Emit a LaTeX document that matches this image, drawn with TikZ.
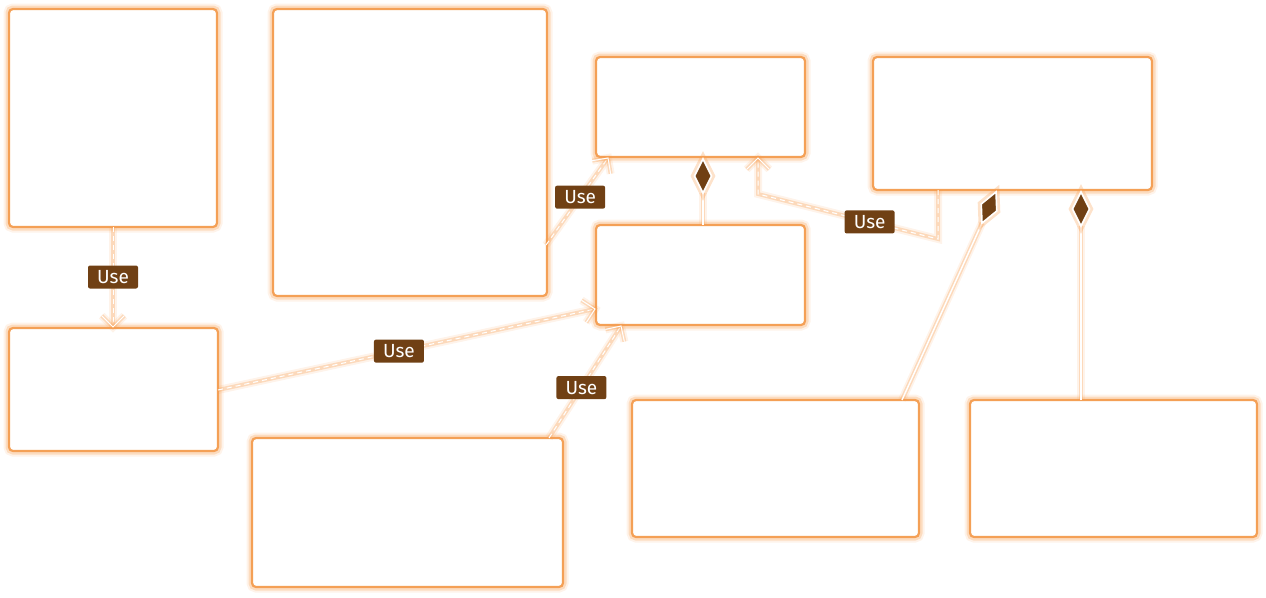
\documentclass[tikz,border=0pt]{standalone}
\usepackage{fontspec}
\setmainfont{Fira Sans}
\usetikzlibrary{calc}
\definecolor{glow}{RGB}{248,158,80}
\definecolor{edge}{RGB}{244,160,86}
\definecolor{lab}{RGB}{112,64,20}
% #1 = tip coordinate, #2 = coordinate the line comes from
\newcommand\myusetip[2]{%
  \draw[tipline] ($(#1)!16pt!45:(#2)$) -- (#1) -- ($(#1)!16pt!-45:(#2)$);}
\newcommand\mydiamond[2]{%
  \coordinate (#1m) at ($(#1)!17pt!(#2)$);
  \coordinate (#1f) at ($(#1)!34pt!(#2)$);
  \draw[solidline] (#2) -- (#1f);
  \draw[diam] (#1) -- ($(#1m)!8.5pt!90:(#2)$) -- (#1f) -- ($(#1m)!8.5pt!-90:(#2)$) -- cycle;}
\begin{document}
\begin{tikzpicture}[x=1pt,y=-1pt,
  box/.style={draw=edge, line width=2.2pt, fill=white, rounded corners=4pt, anchor=north west,
    inner sep=0pt, outer sep=0pt,
    preaction={draw=glow, line width=11pt, draw opacity=0.12},
    preaction={draw=glow, line width=7pt, draw opacity=0.28}},
  uselink/.style={draw=white, line width=1pt, dash pattern=on 5pt off 4pt,
    preaction={draw=glow, line width=8pt, draw opacity=0.12, solid},
    preaction={draw=glow, line width=4pt, draw opacity=0.3, solid}},
  tipline/.style={draw=white, line width=1pt, line join=miter,
    preaction={draw=glow, line width=8pt, draw opacity=0.12},
    preaction={draw=glow, line width=4pt, draw opacity=0.3}},
  solidline/.style={draw=white, line width=1.4pt,
    preaction={draw=glow, line width=8pt, draw opacity=0.12},
    preaction={draw=glow, line width=4.5pt, draw opacity=0.3}},
  diam/.style={draw=white, line width=1.6pt, fill=lab, line join=miter,
    preaction={draw=glow, line width=7pt, draw opacity=0.3}},
  uselabel/.style={fill=lab, text=white, rounded corners=2pt, inner sep=0pt,
    minimum width=50pt, minimum height=23pt, font=\fontsize{19}{19}\selectfont}
]
\useasboundingbox (0,0) rectangle (1266,597);
% boxes
\node[box, minimum width=208pt, minimum height=218pt] (A) at (9,9) {};
\node[box, minimum width=274pt, minimum height=287pt] (B) at (273,9) {};
\node[box, minimum width=209pt, minimum height=100pt] (C) at (596,57) {};
\node[box, minimum width=209pt, minimum height=100pt] (D) at (596,225) {};
\node[box, minimum width=279pt, minimum height=133pt] (E) at (873,57) {};
\node[box, minimum width=209pt, minimum height=123pt] (F) at (9,328) {};
\node[box, minimum width=311pt, minimum height=149pt] (G) at (252,438) {};
\node[box, minimum width=287pt, minimum height=137pt] (H) at (632,400) {};
\node[box, minimum width=287pt, minimum height=137pt] (I) at (970,400) {};
% end points
\coordinate (a1) at (113,227); \coordinate (f1) at (113,327);
\coordinate (b1) at (546,245); \coordinate (c1) at (608,158);
\coordinate (e1) at (938,190); \coordinate (e2) at (938,239);
\coordinate (c3) at (758,194); \coordinate (c2) at (758,158);
\coordinate (f2) at (218,390); \coordinate (d1) at (595,309);
\coordinate (g1) at (549,438); \coordinate (d2) at (621,326);
\coordinate (d3) at (703,225); \coordinate (c4) at (703,159);
\coordinate (h1) at (902,400); \coordinate (e3) at (996,192);
\coordinate (i1) at (1081,400); \coordinate (e4) at (1081,192);
% connectors
\draw[uselink] (a1) -- (f1);
\myusetip{f1}{a1}
\draw[uselink] (b1) -- (c1);
\myusetip{c1}{b1}
\draw[uselink] (e1) -- (e2) -- (c3) -- (c2);
\myusetip{c2}{c3}
\draw[uselink] (f2) -- (d1);
\myusetip{d1}{f2}
\draw[uselink] (g1) -- (d2);
\myusetip{d2}{g1}
\mydiamond{c4}{d3}
\mydiamond{e3}{h1}
\mydiamond{e4}{i1}
% labels
\node[uselabel] (l1) at ($(a1)!0.5!(f1)$) {Use};
\node[uselabel] (l2) at ($(b1)!0.55!(c1)$) {Use};
\node[uselabel] (l3) at ($(e2)!0.38!(c3)$) {Use};
\node[uselabel] (l4) at ($(f2)!0.48!(d1)$) {Use};
\node[uselabel] (l5) at ($(g1)!0.45!(d2)$) {Use};
\end{tikzpicture}
\end{document}
